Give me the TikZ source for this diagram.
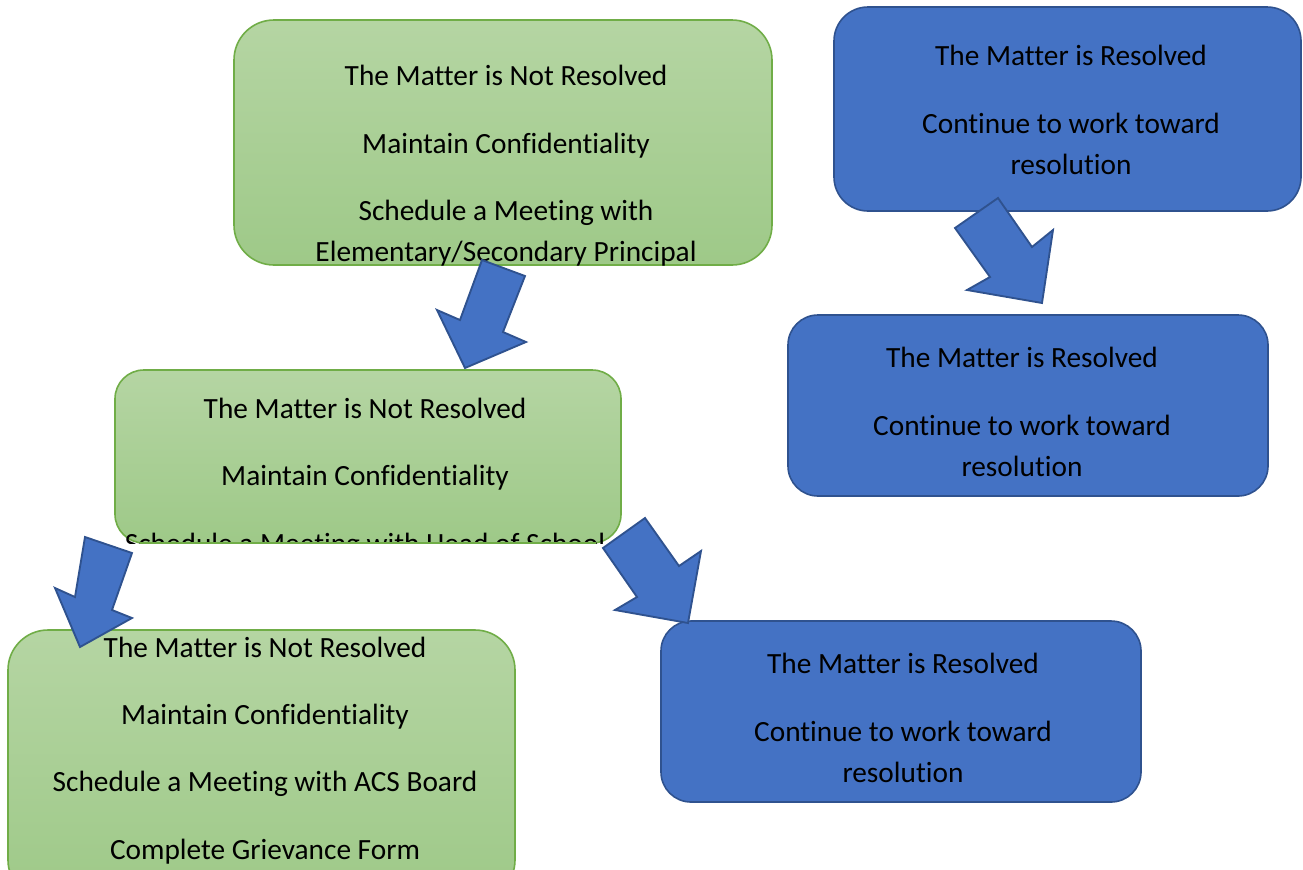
\documentclass[tikz,border=0pt]{standalone}
\usepackage{fontspec}
\setmainfont{Carlito}[Ligatures=NoCommon]
\usetikzlibrary{fit}
\definecolor{gfillTop}{RGB}{181,213,163}
\definecolor{gfillBot}{RGB}{158,201,136}
\definecolor{gline}{RGB}{112,173,71}
\definecolor{bfill}{RGB}{68,114,196}
\definecolor{bline}{RGB}{47,82,143}
\tikzset{
  gbox/.style={draw=gline, line width=1.2pt, top color=gfillTop, bottom color=gfillBot, inner sep=0pt},
  bbox/.style={draw=bline, line width=1.2pt, fill=bfill, inner sep=0pt},
  txt/.style={anchor=base, inner sep=0pt, font=\fontsize{22}{26}\selectfont, text=black},
  barrow/.style={draw=bline, line width=1.4pt, fill=bfill, line join=miter},
}
\begin{document}
\begin{tikzpicture}[x=0.75pt,y=-0.75pt]
\useasboundingbox (0,0) rectangle (1303,869);
\clip (0,0) rectangle (1303,869);

% Green box 1 (top)
\node[gbox, rounded corners=30pt, fit={(234,20) (772,265)}] (g1) {};
\node[txt] (g1a) at (506,85) {The Matter is Not Resolved};
\node[txt] (g1b) at (506,153) {Maintain Confidentiality};
\node[txt] (g1c) at (506,220) {Schedule a Meeting with};
\node[txt] (g1d) at (506,261) {Elementary/Secondary Principal};

% Blue box 1 (top right)
\node[bbox, rounded corners=25.5pt, fit={(834,7) (1301,211)}] (b1) {};
\node[txt] (b1a) at (1071,65) {The Matter is Resolved};
\node[txt] (b1b) at (1071,133) {Continue to work toward};
\node[txt] (b1c) at (1071,174) {resolution};

% Blue box 2 (middle right)
\node[bbox, rounded corners=22.5pt, fit={(788,315) (1268,496)}] (b2) {};
\node[txt] (b2a) at (1022,367) {The Matter is Resolved};
\node[txt] (b2b) at (1022,435) {Continue to work toward};
\node[txt] (b2c) at (1022,476) {resolution};

% Green box 2 (middle)
\node[gbox, rounded corners=21.6pt, fit={(115,370) (621,543)}] (g2) {};
\begin{scope}
  \clip (100,360) rectangle (640,543);
  \node[txt] (g2a) at (365,418) {The Matter is Not Resolved};
  \node[txt] (g2b) at (365,485) {Maintain Confidentiality};
  \node[txt] (g2c) at (365,553) {Schedule a Meeting with Head of School};
\end{scope}
\draw[draw=gline, line width=1.2pt] (140,543) -- (596,543);

% Green box 3 (bottom left)
\node[gbox, rounded corners=30pt, fit={(8,630) (515,900)}] (g3) {};
\node[txt] (g3a) at (265,657) {The Matter is Not Resolved};
\node[txt] (g3b) at (265,724) {Maintain Confidentiality};
\node[txt] (g3c) at (265,791) {Schedule a Meeting with ACS Board};
\node[txt] (g3d) at (265,859) {Complete Grievance Form};

% Blue box 3 (bottom right)
\node[bbox, rounded corners=22.5pt, fit={(661,621) (1141,802)}] (b3) {};
\node[txt] (b3a) at (903,673) {The Matter is Resolved};
\node[txt] (b3b) at (903,741) {Continue to work toward};
\node[txt] (b3c) at (903,782) {resolution};

% Block arrows
\draw[barrow] (482,260) -- (525,276) -- (503,332) -- (526,342) -- (465,368) -- (437,310) -- (460,320) -- cycle;
\draw[barrow] (955,228) -- (998,198) -- (1032,247) -- (1053,230) -- (1042,303) -- (967,290) -- (990,277) -- cycle;
\draw[barrow] (85,537) -- (132,553) -- (112,610) -- (132,618) -- (80,647) -- (55,588) -- (75,597) -- cycle;
\draw[barrow] (603,548) -- (645,518) -- (679,566) -- (701,551) -- (688,623) -- (615,610) -- (637,597) -- cycle;
\end{tikzpicture}
\end{document}
